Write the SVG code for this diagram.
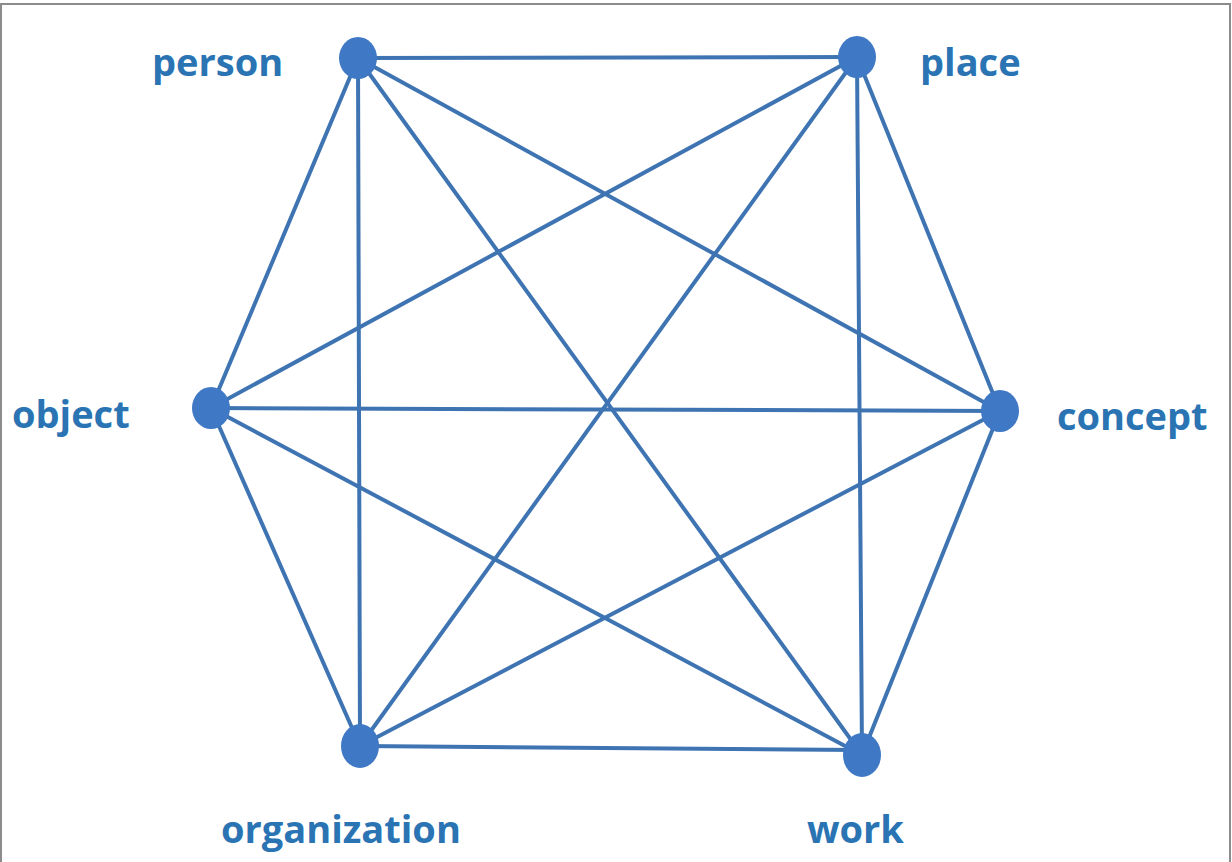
<svg xmlns="http://www.w3.org/2000/svg" width="1232" height="862" viewBox="0 0 1232 862">
<style>
.edge{stroke:#3f74b3;stroke-width:4;fill:none;stroke-linecap:round}
.dot{fill:#3f78c4}
.lbl{font-family:"Open Sans","Noto Sans",sans-serif;font-weight:700;font-size:38px;fill:#2a74b4}
</style>
<rect x="0" y="0" width="1232" height="862" fill="#ffffff"/>
<rect x="1" y="4" width="1229" height="870" fill="none" stroke="#8c8c8c" stroke-width="2"/>
<g id="connectors">
<line class="edge" x1="358" y1="58" x2="857" y2="57"/>
<line class="edge" x1="358" y1="58" x2="211" y2="408"/>
<line class="edge" x1="358" y1="58" x2="1000" y2="411"/>
<line class="edge" x1="358" y1="58" x2="360" y2="746"/>
<line class="edge" x1="358" y1="58" x2="862" y2="755"/>
<line class="edge" x1="857" y1="57" x2="211" y2="408"/>
<line class="edge" x1="857" y1="57" x2="1000" y2="411"/>
<line class="edge" x1="857" y1="57" x2="360" y2="746"/>
<line class="edge" x1="857" y1="57" x2="862" y2="755"/>
<line class="edge" x1="211" y1="408" x2="1000" y2="411"/>
<line class="edge" x1="211" y1="408" x2="360" y2="746"/>
<line class="edge" x1="211" y1="408" x2="862" y2="755"/>
<line class="edge" x1="1000" y1="411" x2="360" y2="746"/>
<line class="edge" x1="1000" y1="411" x2="862" y2="755"/>
<line class="edge" x1="360" y1="746" x2="858" y2="750"/>
</g>
<g id="person"><ellipse class="dot" cx="358" cy="58" rx="19" ry="21"/><text class="lbl" x="152" y="76">person</text></g>
<g id="place"><ellipse class="dot" cx="857" cy="57" rx="19" ry="21"/><text class="lbl" x="920" y="76">place</text></g>
<g id="object"><ellipse class="dot" cx="211" cy="408" rx="19" ry="21"/><text class="lbl" x="12" y="428">object</text></g>
<g id="concept"><ellipse class="dot" cx="1000" cy="411" rx="19" ry="21"/><text class="lbl" x="1057" y="430">concept</text></g>
<g id="organization"><ellipse class="dot" cx="360" cy="746" rx="19" ry="22"/><text class="lbl" x="221" y="843">organization</text></g>
<g id="work"><ellipse class="dot" cx="862" cy="755" rx="19" ry="22"/><text class="lbl" x="807" y="843">work</text></g>
</svg>
